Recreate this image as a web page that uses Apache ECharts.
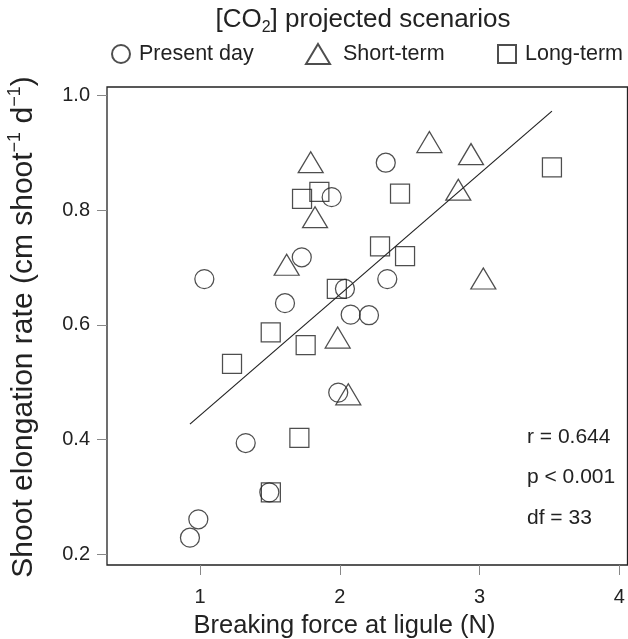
<!DOCTYPE html>
<html><head><meta charset="utf-8">
<script src="https://cdn.jsdelivr.net/npm/echarts@6/dist/echarts.min.js"></script>
<style>html,body{margin:0;padding:0;background:#fff}#c{width:628px;height:639px}</style>
</head><body><div id="c"></div>
<script>
// ---- data ----
const presentX = [1.031, 1.942, 1.728, 1.608, 2.037, 2.078, 2.209, 2.329, 2.340, 1.989, 1.327, 1.496, 0.988, 0.928];
const presentY = [0.680, 0.823, 0.718, 0.638, 0.663, 0.618, 0.617, 0.883, 0.680, 0.482, 0.394, 0.308, 0.261, 0.229];
const shortX = [1.792, 1.823, 1.620, 2.641, 2.939, 2.848, 3.027, 1.985, 2.061];
const shortY = [0.884, 0.788, 0.705, 0.919, 0.898, 0.836, 0.681, 0.578, 0.479];
const longX = [1.854, 1.730, 1.979, 2.431, 2.288, 2.467, 3.518, 1.506, 1.756, 1.229, 1.711, 1.507];
const longY = [0.832, 0.820, 0.663, 0.829, 0.737, 0.720, 0.875, 0.587, 0.565, 0.532, 0.403, 0.308];
const fitX = [0.928, 3.518];
const fitY = [0.427, 0.973];
const xTicks = [1, 2, 3, 4];
const yTicks = [0.2, 0.4, 0.6, 0.8, 1.0];
const seriesNames = ['Present day', 'Short-term', 'Long-term'];
const statLines = ['r = 0.644', 'p < 0.001', 'df = 33'];

const zip = (xs, ys) => xs.map((x, i) => [x, ys[i]]);
const FONT = '"Liberation Sans", Arial, Helvetica, sans-serif';
const INK = '#222';

const chart = echarts.init(document.getElementById('c'), null, {renderer: 'canvas'});
const markStyle = {color: 'rgba(0,0,0,0)', borderColor: INK, borderWidth: 1.25};
const legendBase = {top: 43, padding: 0, selectedMode: false};

const option = {
  animation: false,
  backgroundColor: '#fff',
  grid: {left: 107, top: 87, width: 520.5, height: 478, show: true, borderColor: INK, borderWidth: 1.3, backgroundColor: 'transparent'},
  xAxis: {
    type: 'value', min: 0.3346, max: 4.0586,
    axisLine: {show: false}, splitLine: {show: false},
    axisTick: {show: true, length: 10, customValues: xTicks, lineStyle: {color: '#888', width: 1}},
    axisLabel: {customValues: xTicks, margin: 22, fontSize: 20, fontFamily: FONT, color: INK}
  },
  yAxis: {
    type: 'value', min: 0.1813, max: 1.0151,
    axisLine: {show: false}, splitLine: {show: false},
    axisTick: {show: true, length: 10, customValues: yTicks, lineStyle: {color: '#888', width: 1}},
    axisLabel: {customValues: yTicks, margin: 17, fontSize: 20, fontFamily: FONT, color: INK,
      formatter: v => v.toFixed(1)}
  },
  legend: [
    Object.assign({data: [seriesNames[0]], left: 111, itemWidth: 18, itemHeight: 18,
      textStyle: {fontSize: 21.5, fontFamily: FONT, color: INK, padding: [0, 0, 0, 4]}}, legendBase),
    Object.assign({data: [seriesNames[1]], left: 305, itemWidth: 24, itemHeight: 20,
      textStyle: {fontSize: 21.5, fontFamily: FONT, color: INK, padding: [0, 0, 0, 8]}}, legendBase),
    Object.assign({data: [seriesNames[2]], left: 497, itemWidth: 18, itemHeight: 18,
      textStyle: {fontSize: 21.5, fontFamily: FONT, color: INK, padding: [0, 0, 0, 4]}}, legendBase)
  ],
  series: [
    {name: seriesNames[0], type: 'scatter', symbol: 'circle', symbolSize: 19, data: zip(presentX, presentY), itemStyle: markStyle, z: 3},
    {name: seriesNames[1], type: 'scatter', symbol: 'triangle', symbolSize: [25, 21], data: zip(shortX, shortY), itemStyle: markStyle, z: 3},
    {name: seriesNames[2], type: 'scatter', symbol: 'rect', symbolSize: 19, data: zip(longX, longY), itemStyle: markStyle, z: 3},
    {name: 'fit', type: 'line', data: zip(fitX, fitY), showSymbol: false, symbol: 'none', lineStyle: {color: INK, width: 1.2}, z: 2}
  ],
  graphic: [
    {type: 'text', x: 363, y: 20, style: {text: '[CO{sub|2}] projected scenarios', align: 'center', verticalAlign: 'middle',
      fontSize: 26, fontFamily: FONT, fill: INK, lineHeight: 32,
      rich: {sub: {fontSize: 16, fontFamily: FONT, fill: INK, verticalAlign: 'bottom', lineHeight: 15}}}},
    {type: 'text', x: 24, y: 327, rotation: Math.PI / 2, style: {
      text: 'Shoot elongation rate (cm shoot{sup|\u22121} d{sup|\u22121})', align: 'center', verticalAlign: 'middle',
      fontSize: 30, fontFamily: FONT, fill: INK, lineHeight: 36,
      rich: {sup: {fontSize: 18, fontFamily: FONT, fill: INK, verticalAlign: 'top', lineHeight: 16}}}},
    {type: 'text', x: 344.5, y: 626, style: {text: 'Breaking force at ligule (N)', align: 'center', verticalAlign: 'middle',
      fontSize: 25.5, fontFamily: FONT, fill: INK}},
    ...statLines.map((t, i) => ({type: 'text', x: 527, y: [437, 477, 518][i], style: {text: t, align: 'left', verticalAlign: 'middle',
      fontSize: 21, fontFamily: FONT, fill: INK}}))
  ]
};
chart.setOption(option);
</script>
</body></html>
